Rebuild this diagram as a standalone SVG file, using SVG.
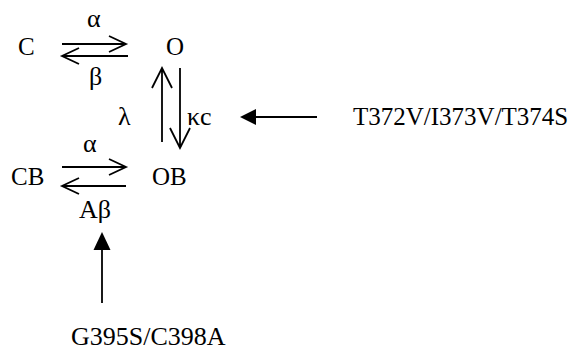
<svg xmlns="http://www.w3.org/2000/svg" width="575" height="351" viewBox="0 0 575 351">
<style>
text{font-family:"Liberation Serif","Times New Roman",serif;fill:#000}
.n{font-size:25px}
.g{font-size:26px}
.m{font-size:25px}
.m2{font-size:26px}
.l{stroke:#000;stroke-width:1.8;fill:none}
.f{fill:#000}
</style>
<rect width="575" height="351" fill="#fff"/>
<g id="connectors">
<path class="l" d="M62 44H126M109 36L126 44L109 52"/>
<path class="l" d="M128 56H62M79 48L62 56L79 64"/>
<path class="l" d="M62 167H126M109 159L126 167L109 175"/>
<path class="l" d="M126 186H62M79 178L62 186L79 194"/>
<path class="l" d="M162 142V68M152 88L162 68L172 88"/>
<path class="l" d="M180 68V148M170 128L180 148L190 128"/>
<path class="l" d="M256 117H317"/>
<polygon class="f" points="240,117 256,109 256,125"/>
<path class="l" d="M102 250V303"/>
<polygon class="f" points="102,232 93.5,250 110.5,250"/>
</g>
<g id="C"><text class="n" x="18" y="55">C</text></g>
<g id="O"><text class="n" x="166" y="55">O</text></g>
<g id="CB"><text class="n" x="11" y="185">CB</text></g>
<g id="OB"><text class="n" x="152" y="185">OB</text></g>
<g id="labels">
<text class="g" x="87" y="27">α</text>
<text class="g" x="89" y="85">β</text>
<text class="g" x="118" y="125">λ</text>
<text class="g" x="187" y="125">κc</text>
<text class="g" x="83" y="152">α</text>
<text class="g" x="79" y="218">Aβ</text>
</g>
<g id="mut1"><text class="m" x="353" y="125">T372V/I373V/T374S</text></g>
<g id="mut2"><text class="m2" x="71" y="345">G395S/C398A</text></g>
</svg>
